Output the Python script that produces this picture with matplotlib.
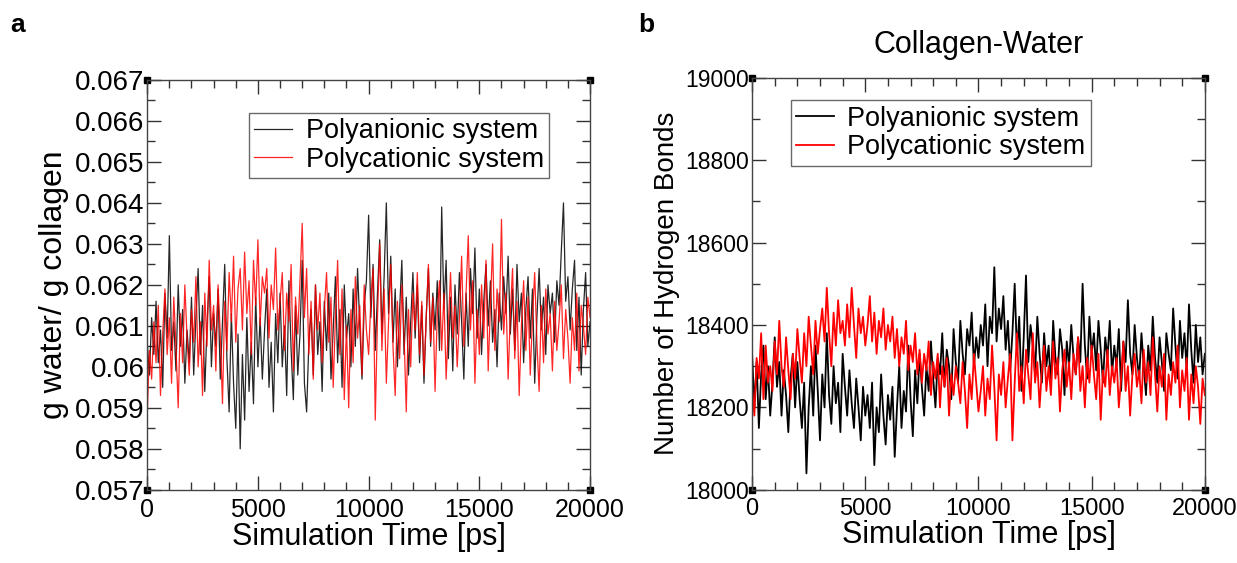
import matplotlib
matplotlib.use("Agg")
import matplotlib.pyplot as plt
import numpy as np
from matplotlib.ticker import MultipleLocator, FuncFormatter

plt.rcParams["font.family"] = ["Liberation Sans", "DejaVu Sans"]

# ── Data (sampled every 100 ps, 0 - 20000 ps) ────────────────────────────────
water_polyanionic = [
    0.0606, 0.0598, 0.0612, 0.0603, 0.0616, 0.0601, 0.0609, 0.0595, 0.0618, 0.0607, 0.0632,
    0.0604, 0.0611, 0.0599, 0.0620, 0.0605, 0.0614, 0.0596, 0.0609, 0.0601, 0.0617,
    0.0598, 0.0612, 0.0624, 0.0603, 0.0615, 0.0594, 0.0610, 0.0622, 0.0600, 0.0613,
    0.0605, 0.0619, 0.0597, 0.0611, 0.0625, 0.0602, 0.0589, 0.0613, 0.0596, 0.0585,
    0.0608, 0.0580, 0.0603, 0.0587, 0.0612, 0.0594, 0.0606, 0.0591, 0.0617, 0.0600,
    0.0612, 0.0597, 0.0609, 0.0619, 0.0595, 0.0606, 0.0589, 0.0613, 0.0601, 0.0618,
    0.0600, 0.0610, 0.0593, 0.0621, 0.0604, 0.0592, 0.0615, 0.0598, 0.0608, 0.0626,
    0.0596, 0.0589, 0.0606, 0.0614, 0.0598, 0.0620, 0.0603, 0.0611, 0.0594, 0.0616,
    0.0604, 0.0618, 0.0597, 0.0609, 0.0622, 0.0601, 0.0614, 0.0595, 0.0620, 0.0607,
    0.0613, 0.0600, 0.0619, 0.0605, 0.0624, 0.0610, 0.0597, 0.0615, 0.0621, 0.0637,
    0.0612, 0.0625, 0.0604, 0.0618, 0.0631, 0.0608, 0.0622, 0.0640, 0.0613, 0.0627,
    0.0606, 0.0619, 0.0600, 0.0614, 0.0626, 0.0603, 0.0617, 0.0598, 0.0611, 0.0623,
    0.0607, 0.0620, 0.0601, 0.0615, 0.0596, 0.0612, 0.0624, 0.0605, 0.0618, 0.0609,
    0.0621, 0.0604, 0.0639, 0.0614, 0.0626, 0.0602, 0.0617, 0.0599, 0.0620, 0.0608,
    0.0623, 0.0611, 0.0597, 0.0618, 0.0605, 0.0624, 0.0613, 0.0629, 0.0607, 0.0619,
    0.0603, 0.0616, 0.0625, 0.0610, 0.0621, 0.0606, 0.0614, 0.0600, 0.0618, 0.0609,
    0.0622, 0.0613, 0.0627, 0.0608, 0.0619, 0.0604, 0.0625, 0.0611, 0.0618, 0.0601,
    0.0614, 0.0622, 0.0607, 0.0619, 0.0596, 0.0612, 0.0624, 0.0609, 0.0617, 0.0603,
    0.0620, 0.0613, 0.0618, 0.0606, 0.0621, 0.0615, 0.0628, 0.0640, 0.0616, 0.0622,
    0.0609, 0.0619, 0.0626, 0.0604, 0.0617, 0.0598, 0.0614, 0.0623, 0.0605, 0.0611,
]
water_polycationic = [
    0.0588, 0.0604, 0.0597, 0.0611, 0.0601, 0.0615, 0.0593, 0.0608, 0.0619, 0.0603, 0.0612,
    0.0596, 0.0617, 0.0605, 0.0590, 0.0613, 0.0601, 0.0620, 0.0607, 0.0598, 0.0614,
    0.0606, 0.0622, 0.0600, 0.0611, 0.0593, 0.0618, 0.0605, 0.0626, 0.0609, 0.0615,
    0.0599, 0.0620, 0.0608, 0.0591, 0.0616, 0.0604, 0.0623, 0.0611, 0.0627, 0.0606,
    0.0619, 0.0624, 0.0609, 0.0628, 0.0613, 0.0621, 0.0603, 0.0626, 0.0615, 0.0631,
    0.0610, 0.0622, 0.0618, 0.0624, 0.0607, 0.0620, 0.0614, 0.0629, 0.0609, 0.0616,
    0.0623, 0.0604, 0.0618, 0.0611, 0.0625, 0.0599, 0.0617, 0.0608, 0.0621, 0.0635,
    0.0612, 0.0624, 0.0603, 0.0616, 0.0597, 0.0620, 0.0609, 0.0618, 0.0601, 0.0614,
    0.0623, 0.0606, 0.0617, 0.0595, 0.0612, 0.0626, 0.0603, 0.0619, 0.0592, 0.0610,
    0.0590, 0.0614, 0.0601, 0.0622, 0.0607, 0.0615, 0.0598, 0.0620, 0.0609, 0.0603,
    0.0616, 0.0624, 0.0587, 0.0612, 0.0630, 0.0604, 0.0619, 0.0596, 0.0611, 0.0625,
    0.0605, 0.0593, 0.0616, 0.0602, 0.0620, 0.0608, 0.0589, 0.0614, 0.0600, 0.0618,
    0.0609, 0.0623, 0.0603, 0.0616, 0.0598, 0.0612, 0.0625, 0.0606, 0.0617, 0.0594,
    0.0613, 0.0621, 0.0604, 0.0618, 0.0597, 0.0610, 0.0623, 0.0607, 0.0615, 0.0600,
    0.0612, 0.0627, 0.0605, 0.0618, 0.0632, 0.0609, 0.0621, 0.0596, 0.0614, 0.0603,
    0.0620, 0.0607, 0.0626, 0.0599, 0.0615, 0.0630, 0.0604, 0.0619, 0.0611, 0.0636,
    0.0608, 0.0618, 0.0597, 0.0613, 0.0624, 0.0602, 0.0616, 0.0593, 0.0610, 0.0621,
    0.0604, 0.0617, 0.0598, 0.0612, 0.0623, 0.0606, 0.0594, 0.0615, 0.0601, 0.0619,
    0.0608, 0.0613, 0.0599, 0.0616, 0.0604, 0.0611, 0.0620, 0.0602, 0.0614, 0.0607,
    0.0596, 0.0612, 0.0604, 0.0618, 0.0599, 0.0615, 0.0610, 0.0603, 0.0617, 0.0612,
]
hbonds_polyanionic = [
    18330, 18200, 18310, 18150, 18280, 18350, 18220, 18300, 18180, 18260, 18370,
    18250, 18310, 18180, 18290, 18230, 18140, 18270, 18330, 18200, 18310,
    18220, 18150, 18260, 18040, 18200, 18300, 18180, 18350, 18240, 18120,
    18280, 18200, 18380, 18230, 18160, 18300, 18210, 18260, 18140, 18330,
    18250, 18180, 18290, 18210, 18150, 18270, 18200, 18120, 18250, 18180,
    18230, 18150, 18260, 18060, 18200, 18140, 18280, 18180, 18110, 18230,
    18170, 18250, 18080, 18200, 18300, 18150, 18240, 18190, 18350, 18220,
    18130, 18290, 18210, 18330, 18250, 18180, 18300, 18240, 18360, 18270,
    18200, 18320, 18280, 18380, 18250, 18340, 18300, 18220, 18390, 18310,
    18260, 18410, 18330, 18280, 18390, 18350, 18430, 18300, 18370, 18320,
    18400, 18350, 18450, 18300, 18420, 18380, 18540, 18360, 18440, 18390,
    18470, 18340, 18410, 18290, 18380, 18500, 18330, 18420, 18240, 18370,
    18520, 18310, 18400, 18350, 18280, 18420, 18330, 18260, 18380, 18300,
    18350, 18250, 18410, 18320, 18280, 18390, 18340, 18230, 18360, 18300,
    18400, 18320, 18280, 18370, 18310, 18500, 18350, 18270, 18420, 18330,
    18380, 18290, 18410, 18340, 18260, 18370, 18320, 18410, 18280, 18350,
    18300, 18390, 18240, 18360, 18310, 18460, 18330, 18280, 18400, 18320,
    18270, 18380, 18300, 18230, 18350, 18290, 18420, 18320, 18260, 18370,
    18310, 18240, 18380, 18330, 18290, 18440, 18350, 18270, 18410, 18320,
    18380, 18290, 18450, 18340, 18260, 18400, 18310, 18370, 18280, 18330,
]
hbonds_polycationic = [
    18250, 18180, 18320, 18270, 18380, 18220, 18350, 18260, 18300, 18240, 18360,
    18280, 18410, 18300, 18250, 18370, 18290, 18220, 18330, 18270, 18390,
    18320, 18260, 18380, 18300, 18420, 18350, 18280, 18410, 18330, 18390,
    18440, 18360, 18490, 18380, 18300, 18430, 18350, 18460, 18380, 18410,
    18350, 18450, 18370, 18490, 18400, 18320, 18440, 18380, 18420, 18350,
    18400, 18470, 18360, 18430, 18330, 18410, 18370, 18440, 18340, 18400,
    18360, 18420, 18320, 18390, 18300, 18370, 18330, 18410, 18290, 18350,
    18310, 18380, 18280, 18340, 18260, 18330, 18290, 18360, 18230, 18310,
    18270, 18330, 18200, 18300, 18250, 18320, 18180, 18280, 18230, 18300,
    18260, 18210, 18310, 18240, 18150, 18280, 18220, 18330, 18260, 18190,
    18240, 18300, 18180, 18270, 18220, 18350, 18250, 18120, 18280, 18230,
    18310, 18200, 18270, 18330, 18120, 18260, 18380, 18240, 18300, 18210,
    18340, 18280, 18220, 18380, 18260, 18310, 18200, 18290, 18350, 18240,
    18300, 18230, 18360, 18270, 18320, 18190, 18290, 18340, 18250, 18310,
    18220, 18330, 18280, 18370, 18240, 18300, 18200, 18320, 18260, 18350,
    18280, 18220, 18330, 18170, 18290, 18250, 18340, 18230, 18300, 18260,
    18320, 18200, 18270, 18360, 18240, 18300, 18180, 18280, 18330, 18250,
    18290, 18210, 18340, 18260, 18310, 18230, 18370, 18280, 18190, 18300,
    18250, 18330, 18170, 18280, 18230, 18310, 18260, 18350, 18200, 18290,
    18240, 18320, 18170, 18280, 18210, 18300, 18250, 18160, 18270, 18230,
]
series_labels = ["Polyanionic system", "Polycationic system"]
series_colors = ["black", "#ff0000"]

t_water = np.linspace(0, 20000, len(water_polyanionic))
t_hb = np.linspace(0, 20000, len(hbonds_polyanionic))


def style_axes(ax, ymin, ymax, ymajor, yminor, xlabfs, ylabfs):
    ax.set_xlim(0, 20000)
    ax.set_ylim(ymin, ymax)
    ax.xaxis.set_major_locator(MultipleLocator(5000))
    ax.xaxis.set_minor_locator(MultipleLocator(1000))
    ax.yaxis.set_major_locator(MultipleLocator(ymajor))
    ax.yaxis.set_minor_locator(MultipleLocator(yminor))
    ax.tick_params(which="both", direction="in", top=True, right=True,
                   color="#333333")
    ax.tick_params(which="major", length=10, width=1)
    ax.tick_params(which="minor", length=6, width=1)
    ax.tick_params(axis="x", labelsize=xlabfs, pad=6)
    ax.tick_params(axis="y", labelsize=ylabfs, pad=2)
    for sp in ax.spines.values():
        sp.set_color("#444444")
        sp.set_linewidth(1.0)
    # little corner squares, as in the original plotting tool
    ax.plot([0, 1, 0, 1], [0, 0, 1, 1], "s", color="black", ms=4,
            transform=ax.transAxes, clip_on=False)


def style_legend(leg):
    leg.get_frame().set_edgecolor("#444444")
    leg.get_frame().set_linewidth(1.0)


fig = plt.figure(figsize=(12.37, 5.63), dpi=100)

# ── Panel a ──────────────────────────────────────────────────────────────────
ax1 = fig.add_axes([0.119, 0.130, 0.358, 0.728])
ax1.plot(t_water, water_polyanionic, color=series_colors[0], lw=0.9,
         alpha=0.85, label=series_labels[0])
ax1.plot(t_water, water_polycationic, color=series_colors[1], lw=0.9,
         alpha=0.85, label=series_labels[1])
style_axes(ax1, 0.057, 0.067, 0.001, 0.0005, 18, 20)
ax1.yaxis.set_major_formatter(FuncFormatter(lambda v, p: f"{v:g}"))
ax1.set_xlabel("Simulation Time [ps]", fontsize=22, labelpad=0)
ax1.set_ylabel("g water/ g collagen", fontsize=23, labelpad=4)
leg1 = ax1.legend(loc="upper left", bbox_to_anchor=(0.23, 0.92), fontsize=19.5,
                  frameon=True, fancybox=False, handlelength=1.4,
                  borderpad=0.2, labelspacing=0.1, handletextpad=0.5,
                  borderaxespad=0)
style_legend(leg1)
fig.text(0.008, 0.955, "a", fontsize=19, fontweight="bold", va="center")

# ── Panel b ──────────────────────────────────────────────────────────────────
ax2 = fig.add_axes([0.608, 0.130, 0.366, 0.732])
ax2.plot(t_hb, hbonds_polyanionic, color=series_colors[0], lw=1.3,
         label=series_labels[0])
ax2.plot(t_hb, hbonds_polycationic, color=series_colors[1], lw=1.3,
         label=series_labels[1])
style_axes(ax2, 18000, 19000, 200, 100, 17, 16.5)
ax2.set_xlabel("Simulation Time [ps]", fontsize=22, labelpad=0)
ax2.set_ylabel("Number of Hydrogen Bonds", fontsize=20, labelpad=4)
ax2.set_title("Collagen-Water", fontsize=22, pad=18)
leg2 = ax2.legend(loc="upper left", bbox_to_anchor=(0.085, 0.945), fontsize=19.5,
                  frameon=True, fancybox=False, handlelength=1.4,
                  borderpad=0.2, labelspacing=0.1, handletextpad=0.5,
                  borderaxespad=0)
style_legend(leg2)
fig.text(0.516, 0.955, "b", fontsize=19, fontweight="bold", va="center")

fig.savefig("out.png", dpi=100)
